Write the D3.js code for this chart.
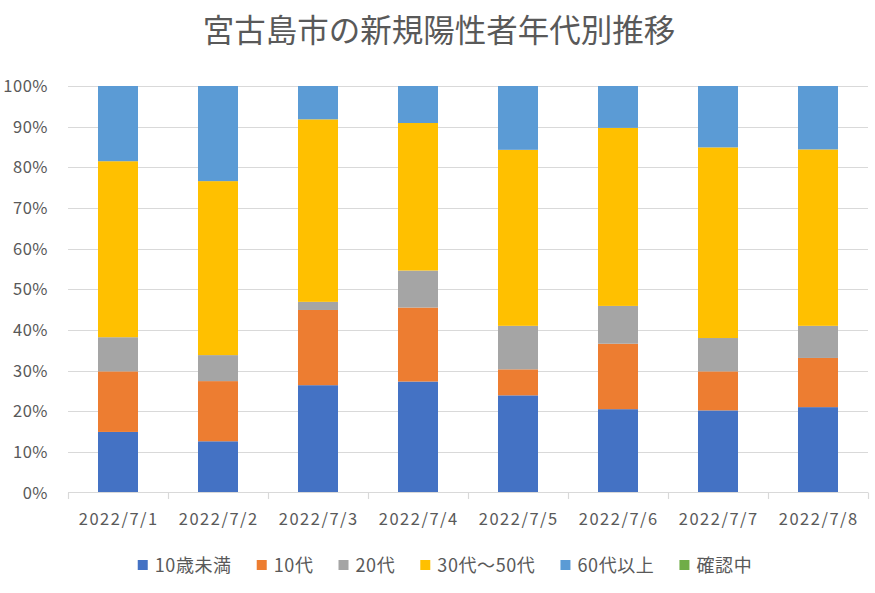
<!DOCTYPE html>
<html><head><meta charset="utf-8">
<script src="https://cdn.jsdelivr.net/npm/d3@7"></script>
<style>
html,body{margin:0;padding:0;background:#fff;}
svg{display:block;font-family:"Noto Sans CJK JP","Noto Sans",sans-serif;}
</style></head>
<body>
<svg id="chart" width="875" height="593"></svg>
<script>
const title = "宮古島市の新規陽性者年代別推移";
const categories = ["2022/7/1","2022/7/2","2022/7/3","2022/7/4","2022/7/5","2022/7/6","2022/7/7","2022/7/8"];
const seriesNames = ["10歳未満","10代","20代","30代～50代","60代以上","確認中"];
const under10 = [14.9, 12.6, 26.4, 27.3, 23.9, 20.5, 20.2, 21.0];
const teens   = [14.9, 14.8, 18.5, 18.2, 6.4, 16.1, 9.6, 12.1];
const twenties= [8.4, 6.4, 2.0, 9.1, 10.7, 9.3, 8.2, 7.9];
const age30to50=[43.3, 42.8, 44.9, 36.3, 43.3, 43.8, 46.9, 43.4];
const over60  = [18.5, 23.4, 8.2, 9.1, 15.7, 10.3, 15.1, 15.6];
const unknown = [0, 0, 0, 0, 0, 0, 0, 0];
const yTicks = [0,0.1,0.2,0.3,0.4,0.5,0.6,0.7,0.8,0.9,1.0];
const colors = ["#4472C4","#ED7D31","#A5A5A5","#FFC000","#5B9BD5","#70AD47"];

(function(){
const seriesValues = [under10, teens, twenties, age30to50, over60, unknown];
const rows = categories.map((c,i)=>{
  const r = {cat:c};
  const tot = d3.sum(seriesValues, s=>s[i]);
  seriesNames.forEach((n,k)=>{ r[n] = seriesValues[k][i]/tot; });
  return r;
});
const stacked = d3.stack().keys(seriesNames)(rows);

const svg = d3.select("#chart");
const textColor = "#595959";
const pL = 68, pR = 868, pT = 86, pB = 492.5;

const x = d3.scaleBand().domain(categories).range([pL,pR]).paddingInner(0.6).paddingOuter(0.3);
const y = d3.scaleLinear().domain([0,1]).range([pB, pT]);

svg.append("text").attr("x",439).attr("y",42).attr("text-anchor","middle")
  .attr("font-size",31.5).attr("fill",textColor).text(title);

svg.append("g").selectAll("line").data(yTicks.filter(t=>t>0)).join("line")
  .attr("x1",pL).attr("x2",pR)
  .attr("y1",d=>Math.round(y(d))+0.5).attr("y2",d=>Math.round(y(d))+0.5)
  .attr("stroke","#d9d9d9").attr("stroke-width",1.2);

svg.append("g").selectAll("text").data(yTicks).join("text")
  .attr("x",48).attr("y",d=>y(d)+6).attr("text-anchor","end")
  .attr("font-size",16.5).attr("letter-spacing",0.5).attr("fill",textColor)
  .text(d=>d3.format(".0%")(d));

svg.append("g").selectAll("g").data(stacked).join("g")
  .attr("fill",(d,i)=>colors[i])
  .selectAll("rect").data(d=>d).join("rect")
  .attr("x",d=>x(d.data.cat)).attr("width",x.bandwidth())
  .attr("y",d=>y(d[1])).attr("height",d=>Math.max(0,y(d[0])-y(d[1])));

const bounds = d3.range(categories.length+1).map(i=>pL + i*(pR-pL)/categories.length);
svg.append("line").attr("x1",pL).attr("x2",pR).attr("y1",pB).attr("y2",pB)
  .attr("stroke","#d9d9d9").attr("stroke-width",1.2);
svg.append("g").selectAll("line").data(bounds).join("line")
  .attr("x1",d=>Math.round(d)+0.5).attr("x2",d=>Math.round(d)+0.5)
  .attr("y1",pB).attr("y2",pB+6.5)
  .attr("stroke","#d9d9d9").attr("stroke-width",1.2);

svg.append("g").selectAll("text").data(categories).join("text")
  .attr("x",d=>x(d)+x.bandwidth()/2+0.75).attr("y",525).attr("text-anchor","middle")
  .attr("font-size",16.5).attr("letter-spacing",1.5).attr("fill",textColor).text(d=>d);

const lg = svg.append("g");
const items = lg.selectAll("g").data(seriesNames).join("g");
items.append("rect").attr("width",10).attr("height",10).attr("y",-5).attr("fill",(d,i)=>colors[i]);
items.append("text").attr("x",17).attr("y",6.5).attr("font-size",18).attr("letter-spacing",0.6)
  .attr("fill",textColor).text(d=>d);
let pos = 0; const offs = [];
items.each(function(){
  const w = 17 + d3.select(this).select("text").node().getComputedTextLength();
  offs.push(pos); pos += w + 25;
});
const totalW = pos - 25;
const startX = 445 - totalW/2;
items.attr("transform",(d,i)=>`translate(${startX+offs[i]},565)`);
})();
</script>
</body></html>
